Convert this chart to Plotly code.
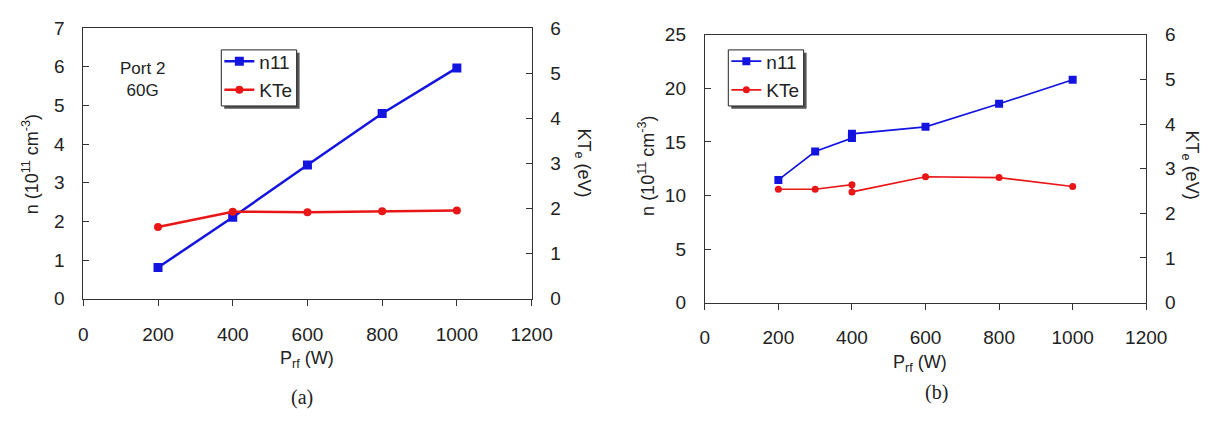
import plotly.graph_objects as go

# ---- data (a) ----
a_power = [200, 400, 600, 800, 1000]
a_n11 = [0.81, 2.11, 3.46, 4.79, 5.97]
a_kte = [1.59, 1.93, 1.92, 1.94, 1.96]

# ---- data (b) ----
b_power = [200, 300, 400, 400, 600, 800, 1000]
b_n11 = [11.45, 14.1, 15.35, 15.75, 16.4, 18.55, 20.8]
b_kte = [2.54, 2.54, 2.64, 2.48, 2.82, 2.80, 2.60]

x_ticks = [0, 200, 400, 600, 800, 1000, 1200]

BLUE = "rgb(20,20,225)"
RED = "rgb(232,22,22)"
AXC = "#333333"
TXT = "#222222"
FONT = "Liberation Sans, Arial, sans-serif"
SERIF = "Liberation Serif, Times New Roman, serif"

W, H = 1224, 421


def px(x):
    return x / W


def py(y):
    return 1 - y / H


fig = go.Figure()

fig.add_trace(go.Scatter(x=a_power, y=a_n11, name="n11", mode="lines+markers",
                         line=dict(color=BLUE, width=2.5),
                         marker=dict(symbol="square", size=9, color=BLUE),
                         xaxis="x", yaxis="y", legend="legend", legendgroup="a1"))
fig.add_trace(go.Scatter(x=a_power, y=a_kte, name="KTe", mode="lines+markers",
                         line=dict(color=RED, width=2.5),
                         marker=dict(symbol="circle", size=8, color=RED),
                         xaxis="x", yaxis="y2", legend="legend", legendgroup="a2"))
fig.add_trace(go.Scatter(x=b_power, y=b_n11, name="n11", mode="lines+markers",
                         line=dict(color=BLUE, width=1.6),
                         marker=dict(symbol="square", size=8, color=BLUE),
                         xaxis="x2", yaxis="y3", legend="legend2", legendgroup="b1"))
fig.add_trace(go.Scatter(x=b_power, y=b_kte, name="KTe", mode="lines+markers",
                         line=dict(color=RED, width=1.6),
                         marker=dict(symbol="circle", size=7, color=RED),
                         xaxis="x2", yaxis="y4", legend="legend2", legendgroup="b2"))

tickfont = dict(family=FONT, size=19, color=TXT)


def xax(domain, anchor):
    return dict(domain=domain, anchor=anchor, range=[0, 1200], tickvals=x_ticks,
                showline=True, linecolor=AXC, linewidth=1, mirror=True,
                ticks="outside", ticklen=6, tickcolor=AXC, showgrid=False,
                zeroline=False, tickfont=tickfont, ticklabelstandoff=12)


def yax(domain, anchor, rng, dtick, side="left", overlaying=None):
    d = dict(domain=domain, anchor=anchor, range=rng, dtick=dtick, tick0=0,
             showline=True, linecolor=AXC, linewidth=1, side=side,
             ticks="inside", ticklen=6, tickcolor=AXC, showgrid=False,
             zeroline=False, tickfont=tickfont, ticklabelstandoff=14)
    if overlaying:
        d["overlaying"] = overlaying
    return d


ya_dom = [py(304), py(19)]
yb_dom = [py(308), py(26)]
xa_dom = [px(80), px(538)]
xb_dom = [px(715), px(1166)]

legfont = dict(family=FONT, size=19, color=TXT)

fig.update_layout(
    width=W, height=H,
    margin=dict(l=0, r=0, t=0, b=0),
    paper_bgcolor="white", plot_bgcolor="rgba(0,0,0,0)",
    font=dict(family=FONT, size=19, color=TXT),
    xaxis=xax(xa_dom, "y"),
    yaxis=yax(ya_dom, "x", [0, 7], 1),
    yaxis2=yax(ya_dom, "x", [0, 6], 1, side="right", overlaying="y"),
    xaxis2=xax(xb_dom, "y3"),
    yaxis3=yax(yb_dom, "x2", [0, 25], 5),
    yaxis4=yax(yb_dom, "x2", [0, 6], 1, side="right", overlaying="y3"),
    legend=dict(x=px(219), y=py(34), xanchor="left", yanchor="top",
                bgcolor="rgba(0,0,0,0)", borderwidth=0,
                font=legfont, tracegroupgap=1, itemwidth=30),
    legend2=dict(x=px(737), y=py(34), xanchor="left", yanchor="top",
                 bgcolor="rgba(0,0,0,0)", borderwidth=0,
                 font=legfont, tracegroupgap=1, itemwidth=30),
)

# legend frames with drop shadow
for x0 in (221, 739):
    fig.add_shape(type="rect", xref="paper", yref="paper",
                  x0=px(x0 + 3), x1=px(x0 + 80), y0=py(104), y1=py(45),
                  fillcolor="#555555", line=dict(width=0), layer="above")
    fig.add_shape(type="rect", xref="paper", yref="paper",
                  x0=px(x0), x1=px(x0 + 77), y0=py(101), y1=py(42),
                  fillcolor="white", line=dict(color="#222222", width=1), layer="above")

ann = [
    dict(x=px(140), y=py(73), text="Port 2<br>60G",
         font=dict(family=FONT, size=17, color=TXT)),
    dict(x=px(27), y=py(162), text="n (10<sup>11</sup> cm<sup>-3</sup>)", textangle=-90),
    dict(x=px(590), y=py(161), text="KT<sub>e</sub> (eV)", textangle=90),
    dict(x=px(309), y=py(368), text="P<sub>rf</sub> (W)"),
    dict(x=px(303), y=py(408), text="(a)", font=dict(family=SERIF, size=20, color=TXT)),
    dict(x=px(656), y=py(164), text="n (10<sup>11</sup> cm<sup>-3</sup>)", textangle=-90),
    dict(x=px(1211), y=py(163), text="KT<sub>e</sub> (eV)", textangle=90),
    dict(x=px(935), y=py(372), text="P<sub>rf</sub> (W)"),
    dict(x=px(952), y=py(403), text="(b)", font=dict(family=SERIF, size=20, color=TXT)),
]
for a in ann:
    a.setdefault("font", dict(family=FONT, size=18, color=TXT))
    a.setdefault("textangle", 0)
    fig.add_annotation(xref="paper", yref="paper", showarrow=False,
                       xanchor="center", yanchor="middle", **a)

fig.write_html("out.html")
